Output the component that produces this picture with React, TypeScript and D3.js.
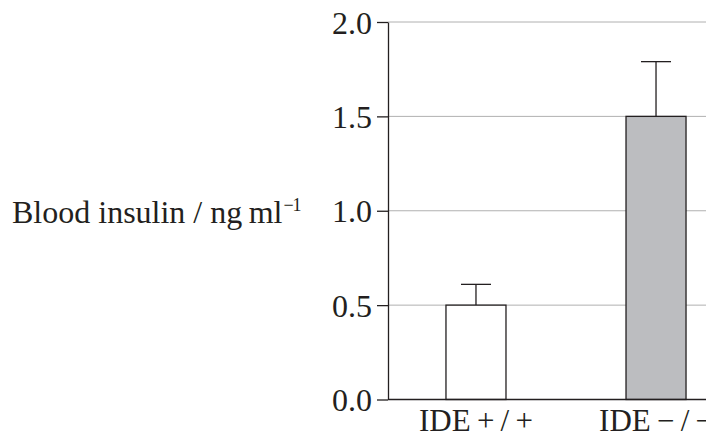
import { useRef, useEffect } from "react";
import * as d3 from "d3";

const groups = ["IDE\u2009+\u2009/\u2009+", "IDE\u2009−\u2009/\u2009−"];
const means = [0.5, 1.5];
const errors = [0.11, 0.29];
const fills = ["#ffffff", "#bcbdc0"];
const yTicks = [0, 0.5, 1, 1.5, 2];

const App = () => {
  const ref = useRef<SVGSVGElement>(null);

  useEffect(() => {
    if (!ref.current) return;
    const svg = d3.select(ref.current);
    const width = 706;
    const axisX = 388;
    const font = "'Liberation Serif', 'Times New Roman', serif";
    const ink = "#231f20";

    const y = d3.scaleLinear().domain([0, 2]).range([399.5, 22]);
    const x = d3
      .scaleBand<string>()
      .domain(groups)
      .range([axisX, 744])
      .paddingInner(2 / 3)
      .paddingOuter(0.322);

    // gridlines
    svg
      .append("g")
      .selectAll("line")
      .data(yTicks.filter((t) => t > 0))
      .enter()
      .append("line")
      .attr("x1", axisX)
      .attr("x2", width)
      .attr("y1", (d) => y(d))
      .attr("y2", (d) => y(d))
      .attr("stroke", "#b0b0b0")
      .attr("stroke-width", 1);

    // bars + error bars
    const bars = svg.append("g");
    groups.forEach((g, i) => {
      const bx = x(g)!;
      const cx = bx + x.bandwidth() / 2;
      const top = y(means[i] + errors[i]);
      bars
        .append("line")
        .attr("x1", cx)
        .attr("x2", cx)
        .attr("y1", y(means[i]))
        .attr("y2", top)
        .attr("stroke", ink)
        .attr("stroke-width", 1.3);
      bars
        .append("line")
        .attr("x1", cx - 15)
        .attr("x2", cx + 15)
        .attr("y1", top)
        .attr("y2", top)
        .attr("stroke", ink)
        .attr("stroke-width", 1.3);
      bars
        .append("rect")
        .attr("x", bx)
        .attr("y", y(means[i]))
        .attr("width", x.bandwidth())
        .attr("height", y(0) - y(means[i]))
        .attr("fill", fills[i])
        .attr("stroke", ink)
        .attr("stroke-width", 1.3);
    });

    // y axis
    const yAxis = d3
      .axisLeft(y)
      .tickValues(yTicks)
      .tickFormat(d3.format(".1f"))
      .tickSize(11)
      .tickSizeOuter(0);
    svg
      .append("g")
      .attr("transform", `translate(${axisX},0)`)
      .call(yAxis)
      // eslint-disable-next-line @typescript-eslint/no-explicit-any
      .call((g: any) => g.select(".domain").attr("stroke", ink).attr("stroke-width", 1.3))
      // eslint-disable-next-line @typescript-eslint/no-explicit-any
      .call((g: any) => g.selectAll(".tick line").attr("stroke", ink).attr("stroke-width", 1.3))
      // eslint-disable-next-line @typescript-eslint/no-explicit-any
      .call((g: any) =>
        g
          .selectAll("text")
          .attr("x", -16)
          .attr("dy", "0.35em")
          .attr("fill", ink)
          .style("font-family", font)
          .style("font-size", "32px")
      );

    // baseline
    svg
      .append("line")
      .attr("x1", axisX)
      .attr("x2", width)
      .attr("y1", y(0))
      .attr("y2", y(0))
      .attr("stroke", ink)
      .attr("stroke-width", 1.3);

    // x labels
    svg
      .append("g")
      .selectAll("text")
      .data(groups)
      .enter()
      .append("text")
      .attr("x", (d) => x(d)! + x.bandwidth() / 2)
      .attr("y", 431)
      .attr("text-anchor", "middle")
      .attr("fill", ink)
      .style("font-family", font)
      .style("font-size", "31px")
      .text((d) => d);

    // y label
    const label = svg
      .append("text")
      .attr("x", 12)
      .attr("y", 223)
      .attr("fill", ink)
      .style("font-family", font)
      .style("font-size", "32px");
    label.append("tspan").text("Blood insulin / ng\u2009ml");
    label
      .append("tspan")
      .attr("dy", -12)
      .attr("dx", 1)
      .style("font-size", "18px")
      .style("letter-spacing", "-1px")
      .text("−1");

    return () => {
      svg.selectAll("*").remove();
    };
  }, []);

  return (
    <svg
      ref={ref}
      width={706}
      height={434}
      style={{ position: "absolute", left: 0, top: 0, background: "#fff" }}
    />
  );
};

export default App;
